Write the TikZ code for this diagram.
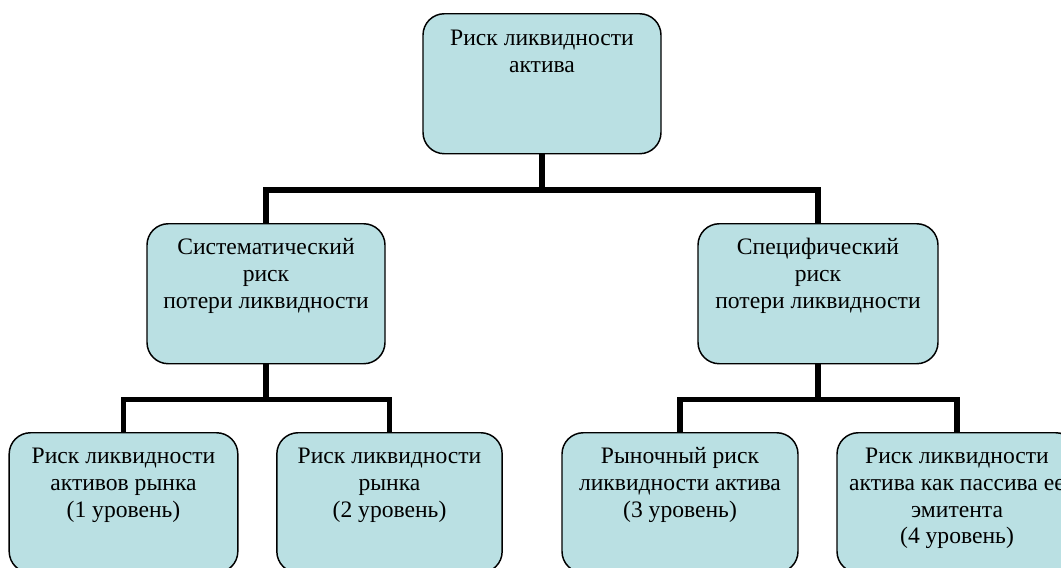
\documentclass[tikz,border=0pt]{standalone}
\usepackage{fontspec}
\setmainfont{Liberation Serif}
\definecolor{boxfill}{HTML}{BAE0E3}
\newcommand{\fst}{\rule{0pt}{14pt}}
\begin{document}
\begin{tikzpicture}[x=0.75pt,y=-0.75pt,
  box/.style={draw=black, line width=1.1pt, fill=boxfill, rounded corners=16pt,
    minimum height=105pt, inner sep=0pt, anchor=north},
  txt/.style={align=center, anchor=north, inner sep=0pt,
    font=\fontsize{17.7}{20}\selectfont},
  conn/.style={draw=black, line width=4.2pt, line join=miter}]
\useasboundingbox (0,0) rectangle (1061,568);
\clip (0,0) rectangle (1061,568);
% connectors (behind boxes)
\coordinate (j0) at (542,190);
\coordinate (j1) at (266,399.5);
\coordinate (j2) at (818,399.5);
\coordinate (n0s) at (542,153);
\coordinate (n1n) at (266,223);
\coordinate (n2n) at (818,223);
\coordinate (n1s) at (266,363);
\coordinate (n2s) at (818,363);
\coordinate (n3n) at (123.5,432);
\coordinate (n4n) at (389.5,432);
\coordinate (n5n) at (680,432);
\coordinate (n6n) at (957,432);
\draw[conn] (n0s) -- (j0);
\draw[conn] (n1n) |- (j0) -| (n2n);
\draw[conn] (n1s) -- (j1);
\draw[conn] (n3n) |- (j1) -| (n4n);
\draw[conn] (n2s) -- (j2);
\draw[conn] (n5n) |- (j2) -| (n6n);
% boxes
\node[box, minimum width=178.5pt] (n0) at (542,13) {};
\node[box, minimum width=178.5pt] (n1) at (266,223) {};
\node[box, minimum width=180pt] (n2) at (818,223) {};
\node[box, minimum width=171.5pt] (n3) at (123.5,432) {};
\node[box, minimum width=169pt] (n4) at (389.5,432) {};
\node[box, minimum width=177pt] (n5) at (680,432) {};
\node[box, minimum width=180pt] (n6) at (957,432) {};
% texts
\node[txt] (t0) at (542,26.5) {\fst Риск ликвидности\\актива};
\node[txt] (t1) at (266,236) {\fst Систематический\\риск\\потери ликвидности};
\node[txt] (t2) at (818,236) {\fst Специфический\\риск\\потери ликвидности};
\node[txt] (t3) at (123.5,445) {\fst Риск ликвидности\\активов рынка\\(1 уровень)};
\node[txt] (t4) at (389.5,445) {\fst Риск ликвидности\\рынка\\(2 уровень)};
\node[txt] (t5) at (680,445) {\fst Рыночный риск\\ликвидности актива\\(3 уровень)};
\node[txt] (t6) at (957,445) {\fst Риск ликвидности\\актива как пассива ее\\эмитента\\(4 уровень)};
\end{tikzpicture}
\end{document}
